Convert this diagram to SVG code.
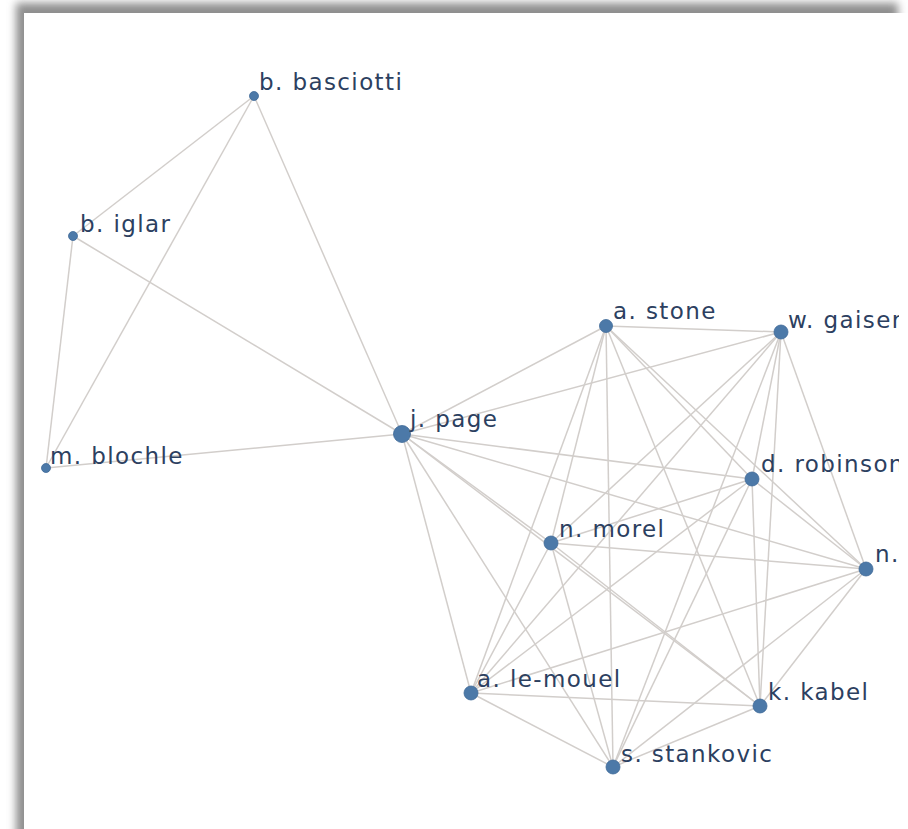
<svg xmlns="http://www.w3.org/2000/svg" width="908" height="829" viewBox="0 0 908 829">
<defs>
<filter id="sh" x="-10%" y="-10%" width="120%" height="120%"><feGaussianBlur stdDeviation="4"/></filter>
<clipPath id="clip"><rect x="24" y="13" width="875" height="816"/></clipPath>
<style>
.e{stroke:#d2cecb;stroke-width:1.5;fill:none}
.n circle{fill:#4c79a8;stroke:#3f6a98;stroke-width:0.8}
.n text{font-family:"DejaVu Sans",Verdana,sans-serif;font-size:23px;letter-spacing:1.4px;fill:#2c4060}
</style>
</defs>
<rect width="908" height="829" fill="#fff"/>
<rect x="16" y="3" width="882" height="900" fill="#8e8e8e" filter="url(#sh)"/>
<rect x="24" y="13" width="890" height="830" fill="#fff"/>
<g clip-path="url(#clip)">
<g id="edges" class="e">
<line x1="254" y1="96" x2="73" y2="236"/>
<line x1="254" y1="96" x2="46" y2="468"/>
<line x1="254" y1="96" x2="402" y2="434"/>
<line x1="73" y1="236" x2="46" y2="468"/>
<line x1="73" y1="236" x2="402" y2="434"/>
<line x1="46" y1="468" x2="402" y2="434"/>
<line x1="402" y1="434" x2="606" y2="326"/>
<line x1="402" y1="434" x2="781" y2="332"/>
<line x1="402" y1="434" x2="752" y2="479"/>
<line x1="402" y1="434" x2="551" y2="543"/>
<line x1="402" y1="434" x2="866" y2="569"/>
<line x1="402" y1="434" x2="471" y2="693"/>
<line x1="402" y1="434" x2="760" y2="706"/>
<line x1="402" y1="434" x2="613" y2="767"/>
<line x1="606" y1="326" x2="781" y2="332"/>
<line x1="606" y1="326" x2="752" y2="479"/>
<line x1="606" y1="326" x2="551" y2="543"/>
<line x1="606" y1="326" x2="866" y2="569"/>
<line x1="606" y1="326" x2="471" y2="693"/>
<line x1="606" y1="326" x2="760" y2="706"/>
<line x1="606" y1="326" x2="613" y2="767"/>
<line x1="781" y1="332" x2="752" y2="479"/>
<line x1="781" y1="332" x2="551" y2="543"/>
<line x1="781" y1="332" x2="866" y2="569"/>
<line x1="781" y1="332" x2="471" y2="693"/>
<line x1="781" y1="332" x2="760" y2="706"/>
<line x1="781" y1="332" x2="613" y2="767"/>
<line x1="752" y1="479" x2="551" y2="543"/>
<line x1="752" y1="479" x2="866" y2="569"/>
<line x1="752" y1="479" x2="471" y2="693"/>
<line x1="752" y1="479" x2="760" y2="706"/>
<line x1="752" y1="479" x2="613" y2="767"/>
<line x1="551" y1="543" x2="866" y2="569"/>
<line x1="551" y1="543" x2="471" y2="693"/>
<line x1="551" y1="543" x2="760" y2="706"/>
<line x1="551" y1="543" x2="613" y2="767"/>
<line x1="866" y1="569" x2="471" y2="693"/>
<line x1="866" y1="569" x2="760" y2="706"/>
<line x1="866" y1="569" x2="613" y2="767"/>
<line x1="471" y1="693" x2="760" y2="706"/>
<line x1="471" y1="693" x2="613" y2="767"/>
<line x1="760" y1="706" x2="613" y2="767"/>
</g>
<g id="n-basciotti" class="n"><circle cx="254" cy="96" r="4.5"/><text x="259" y="90">b. basciotti</text></g>
<g id="n-iglar" class="n"><circle cx="73" cy="236" r="4.5"/><text x="80" y="231.5">b. iglar</text></g>
<g id="n-blochle" class="n"><circle cx="46" cy="468" r="4.5"/><text x="50" y="463.5">m. blochle</text></g>
<g id="n-page" class="n"><circle cx="402" cy="434" r="8.5"/><text x="410" y="427">j. page</text></g>
<g id="n-stone" class="n"><circle cx="606" cy="326" r="6.5"/><text x="613" y="318.5">a. stone</text></g>
<g id="n-gaiser" class="n"><circle cx="781" cy="332" r="7"/><text x="788" y="328">w. gaiser</text></g>
<g id="n-robinson" class="n"><circle cx="752" cy="479" r="7"/><text x="761" y="472">d. robinson</text></g>
<g id="n-morel" class="n"><circle cx="551" cy="543" r="7"/><text x="559" y="537">n. morel</text></g>
<g id="n-n" class="n"><circle cx="866" cy="569" r="7"/><text x="875" y="562">n.</text></g>
<g id="n-lemouel" class="n"><circle cx="471" cy="693" r="7"/><text x="477" y="687">a. le-mouel</text></g>
<g id="n-kabel" class="n"><circle cx="760" cy="706" r="7"/><text x="768" y="700">k. kabel</text></g>
<g id="n-stankovic" class="n"><circle cx="613" cy="767" r="7"/><text x="621" y="762">s. stankovic</text></g>
</g>
<rect x="899" y="13" width="9" height="816" fill="#fff"/>
</svg>
